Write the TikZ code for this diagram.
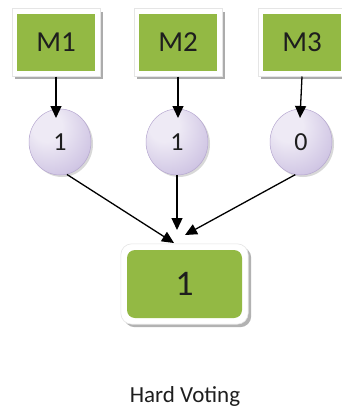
\documentclass[tikz,border=0pt]{standalone}
\usepackage{fontspec}
\setmainfont{Carlito}
\usetikzlibrary{arrows.meta,shadows,fit,backgrounds,shapes.geometric}
\definecolor{boxgreen}{HTML}{93B944}
\definecolor{inktext}{HTML}{1E1E1E}
\definecolor{lavin}{HTML}{EEEAF5}
\definecolor{lavmid}{HTML}{D2C8E5}
\definecolor{lavout}{HTML}{A998C8}
\pgfdeclareradialshading{lavball}{\pgfpoint{-12bp}{14bp}}{%
  color(0bp)=(lavin); color(12bp)=(lavin); color(34bp)=(lavmid);
  color(60bp)=(lavout); color(100bp)=(lavout)}
\tikzset{
  model/.style={rectangle, fill=boxgreen, minimum width=78pt, minimum height=57pt,
    inner sep=0pt, text=inktext, font=\fontsize{29}{32}\selectfont},
  framebox/.style={rectangle, fill=white, draw=gray!20, line width=0.6pt, inner sep=5pt,
    drop shadow={shadow xshift=3pt, shadow yshift=-3pt, fill=gray!65, opacity=1}},
  vote/.style={ellipse, minimum width=62pt, minimum height=66pt, inner sep=0pt,
    shading=lavball, draw=lavout!85, line width=0.5pt, text=inktext,
    font=\fontsize{26}{30}\selectfont,
    drop shadow={shadow xshift=2pt, shadow yshift=-2pt, fill=gray, opacity=0.3}},
  result/.style={rectangle, rounded corners=8pt, fill=boxgreen, minimum width=115pt,
    minimum height=68pt, inner sep=0pt, text=inktext, font=\fontsize{36}{40}\selectfont},
  resultframe/.style={rectangle, rounded corners=11pt, fill=white, draw=gray!20,
    line width=0.6pt, inner sep=6pt,
    drop shadow={shadow xshift=3pt, shadow yshift=-3pt, fill=gray!60, opacity=1}},
  link/.style={draw=black, line width=1.3pt, -{Triangle[length=12pt,width=11pt]}},
}
\begin{document}
\begin{tikzpicture}[x=1pt,y=-1pt]
  \useasboundingbox (0,0) rectangle (342,412);

  % models
  \node[model] (m1) at (56,42.5) {M1};
  \node[model] (m2) at (178,42.5) {M2};
  \node[model] (m3) at (302,42.5) {M3};

  % individual predictions
  \node[vote] (c1) at (60,142) {1};
  \node[vote] (c2) at (177,142) {1};
  \node[vote] (c3) at (301,142) {0};

  % combined prediction
  \node[result] (out) at (184.5,284) {1};

  % caption
  \node[text=inktext, font=\fontsize{23}{26}\selectfont] (cap) at (185,396) {Hard Voting};

  % page background and white frames behind the boxes
  \begin{scope}[on background layer]
    \fill[white] (0,0) rectangle (342,412);
    \node[framebox, fit=(m1)] (f1) {};
    \node[framebox, fit=(m2)] (f2) {};
    \node[framebox, fit=(m3)] (f3) {};
    \node[resultframe, fit=(out)] (fo) {};
  \end{scope}

  % arrow tips
  \coordinate (t1) at (56,118);
  \coordinate (t2) at (178,118);
  \coordinate (t3) at (300,118);
  \coordinate (tl) at (174,243);
  \coordinate (tm) at (177,230);
  \coordinate (tr) at (185,235);

  % connectors
  \draw[link] (f1.south) -- (t1);
  \draw[link] (f2.south) -- (t2);
  \draw[link] (f3.south) -- (t3);
  \draw[link] (c1.-78) -- (tl);
  \draw[link] (c2.south) -- (tm);
  \draw[link] (c3.-100) -- (tr);
\end{tikzpicture}
\end{document}
